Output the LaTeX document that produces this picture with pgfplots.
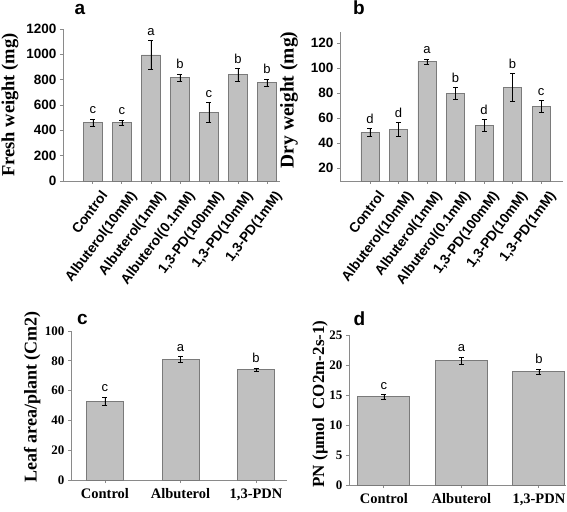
\documentclass[border=0pt]{standalone}
\usepackage{pgfplots}
\pgfplotsset{compat=1.18}
\usepackage{pgfplotstable}
\usepackage{fontspec}
\setmainfont{Liberation Sans}
\newfontfamily\tnr{Liberation Serif}
\definecolor{barfill}{HTML}{C0C0C0}
\definecolor{baredge}{HTML}{7A7A7A}
\definecolor{axgray}{HTML}{8A8A8A}

\pgfplotstableread{
x y e lab
0 460 30 c
1 460 22 c
2 995 112 a
3 815 28 b
4 541 80 c
5 838 50 b
6 776 27 b
}\dataA
\pgfplotstableread{
x y e lab
0 48.5 3.0 d
1 50.7 5.6 d
2 105.0 2.2 a
3 79.5 4.8 b
4 53.9 4.7 d
5 84.3 11.3 b
6 69.3 4.8 c
}\dataB
\pgfplotstableread{
x y e lab
0 52.9 2.6 c
1 81.0 2.0 a
2 74.0 1.3 b
}\dataC
\pgfplotstableread{
x y e lab
0 14.7 0.35 c
1 20.7 0.6 a
2 18.9 0.45 b
}\dataD

\pgfplotsset{
  panel/.style={
    scale only axis, clip=false,
    axis x line*=bottom, axis y line*=left,
    axis line style={axgray, line width=0.8pt},
    tick style={axgray, line width=0.8pt},
    tick align=outside, major tick length=3pt,
    /pgf/number format/assume math mode=true,
    /pgf/number format/1000 sep={},
    ylabel style={rotate=0, anchor=center},
  },
  bars/.style={
    ybar, bar width=#1, fill=barfill, draw=baredge, line width=0.8pt,
    error bars/.cd, y dir=both, y explicit,
    error bar style={black, line width=0.6pt},
    error mark options={black, line width=0.6pt, mark size=2.5pt, rotate=90},
  },
  siglab/.style={
    draw=none, mark=none, nodes near coords, point meta=explicit symbolic,
    nodes near coords style={anchor=south, inner sep=0pt, yshift=5pt,
      font=\fontsize{13}{15}\selectfont, text=black},
  },
  topticks/.style={
    yticklabel style={font=\fontsize{13.5}{15}\selectfont\bfseries},
    xticklabel style={font=\fontsize{13.8}{15}\selectfont\bfseries, rotate=53,
      anchor=north east, inner sep=1pt, xshift=1pt, yshift=-8pt},
    xtick={0,...,6},
    xticklabels={Control,Albuterol(10mM),Albuterol(1mM),Albuterol(0.1mM),{1,3-PD(100mM)},{1,3-PD(10mM)},{1,3-PD(1mM)}},
  },
  botticks/.style={
    yticklabel style={font=\tnr\bfseries\fontsize{13}{15}\selectfont},
    xticklabel style={font=\tnr\bfseries\fontsize{14.5}{16}\selectfont, yshift=-2pt},
    xtick={0,1,2},
    xticklabels={Control,Albuterol,{1,3-PDN}},
  },
}

\begin{document}
\begin{tikzpicture}[x=1pt,y=1pt]
\useasboundingbox (0,0) rectangle (567,511);

% panel a
\begin{axis}[panel, topticks, at={(63pt,330pt)}, anchor=south west,
  width=217pt, height=152pt, xmin=-1.03, xmax=6.45, ymin=0, ymax=1200,
  ytick={0,200,...,1200},
  ylabel={\tnr\bfseries\fontsize{18.5}{20}\selectfont Fresh weight (mg)},
  ylabel style={at={(axis description cs:-0.244,0.5)}, rotate=0}]
\addplot[bars=19pt] table[x=x, y=y, y error=e]{\dataA};
\addplot[siglab] table[x=x, y expr=\thisrow{y}+\thisrow{e}, meta=lab]{\dataA};
\end{axis}

% panel b
\begin{axis}[panel, topticks, at={(340pt,330pt)}, anchor=south west,
  width=223pt, height=149pt, xmin=-1.05, xmax=6.77, ymin=9.6, ymax=128.8,
  ytick={20,40,...,120},
  ylabel={\tnr\bfseries\fontsize{19.5}{21}\selectfont Dry weight (mg)},
  ylabel style={at={(axis description cs:-0.229,0.544)}}]
\addplot[bars=18pt] table[x=x, y=y, y error=e]{\dataB};
\addplot[siglab] table[x=x, y expr=\thisrow{y}+\thisrow{e}, meta=lab]{\dataB};
\end{axis}

% panel c
\begin{axis}[panel, botticks, at={(71pt,31pt)}, anchor=south west,
  width=216pt, height=149pt, xmin=-0.45, xmax=2.41, ymin=0, ymax=100,
  ytick={0,20,...,100},
  ylabel={\tnr\bfseries\fontsize{18}{20}\selectfont Leaf area/plant (Cm2)},
  ylabel style={at={(axis description cs:-0.18,0.557)}}]
\addplot[bars=37pt] table[x=x, y=y, y error=e]{\dataC};
\addplot[siglab] table[x=x, y expr=\thisrow{y}+\thisrow{e}, meta=lab]{\dataC};
\end{axis}

% panel d
\begin{axis}[panel, botticks, at={(349pt,26pt)}, anchor=south west,
  width=217pt, height=150pt, xmin=-0.45, xmax=2.35, ymin=0, ymax=25,
  ytick={0,5,...,25},
  ylabel={\tnr\bfseries\fontsize{17}{19}\selectfont PN (µmol\ \ CO2m-2s-1)},
  ylabel style={at={(axis description cs:-0.133,0.54)}}]
\addplot[bars=52pt] table[x=x, y=y, y error=e]{\dataD};
\addplot[siglab] table[x=x, y expr=\thisrow{y}+\thisrow{e}, meta=lab]{\dataD};
\end{axis}

\node[anchor=base, font=\fontsize{19}{21}\selectfont\bfseries] at (80,496) {a};
\node[anchor=base, font=\fontsize{19}{21}\selectfont\bfseries] at (359,496) {b};
\node[anchor=base, font=\fontsize{19}{21}\selectfont\bfseries] at (82.5,186) {c};
\node[anchor=base, font=\fontsize{19}{21}\selectfont\bfseries] at (359.5,185) {d};
\end{tikzpicture}
\end{document}
